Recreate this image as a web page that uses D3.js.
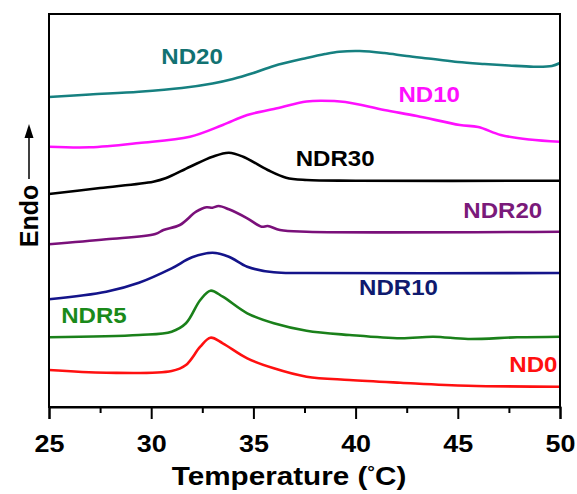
<!DOCTYPE html>
<html lang="en">
<head>
<meta charset="UTF-8"/>
<title>DSC curves</title>
<script src="https://cdn.jsdelivr.net/npm/d3@7"></script>
<style>
    html, body { margin: 0; background: #fff; }
    svg text { font-family: "Liberation Sans", Arial, sans-serif; font-weight: bold; }
</style>
</head>
<body>
<div id="chart"></div>
<script>
    // temperature (°C) vs heat flow (a.u., endo up, curves offset)
    const ND0 = [[25, 37], [27.8, 34.3], [31, 36], [31.7, 42], [32.4, 60.3], [32.9, 69.3], [33.5, 63.7],
        [34.7, 48.7], [36, 38.7], [37.6, 30.3], [39.7, 27], [42.2, 24.3], [45.5, 21.3], [50, 20.3]]
    const NDR5 = [[25, 69.7], [29.4, 72], [31, 75.3], [31.7, 83.7], [32.4, 107], [32.9, 116.3], [33.5, 110.3],
        [34.7, 93.7], [36, 83.7], [37.6, 76.3], [39.7, 72], [42.2, 68.7], [43.8, 70.3], [45.5, 68], [47.9, 69.7], [50, 70.3]]
    const NDR10 = [[25, 107.7], [27.8, 115.3], [29.4, 124.3], [31, 138.7], [32, 149.7], [33, 154.3], [33.8, 150.3],
        [34.7, 140.3], [36, 134.7], [37.6, 134], [50, 134]]
    const NDR20 = [[25, 162.7], [27.8, 167.7], [30.2, 173], [30.6, 177], [31.4, 182], [32.2, 195.3], [32.7, 199.7],
        [33.0, 199.3], [33.3, 201], [33.8, 197.7], [34.7, 188.7], [35.4, 180.3], [35.7, 181], [36.3, 177], [37.6, 175.3], [50, 175.3]]
    const NDR30 = [[25, 213], [27.5, 219], [30.1, 225.3], [30.7, 228.7], [31.9, 240.3], [33, 250.3], [33.8, 254.3],
        [34.5, 250.3], [35.7, 237], [36.6, 229.3], [37.6, 227], [40, 226.3], [50, 226.3]]
    const ND10 = [[25, 260.3], [27, 259.7], [29.4, 264], [31.9, 270.3], [33.5, 282], [34.7, 292], [36, 298],
        [37.6, 305.5], [38.3, 306.3], [39.5, 305], [41.4, 297], [43, 291], [45.1, 282], [46, 280], [47.1, 272], [48.5, 267.5], [50, 265.3]]
    const ND20 = [[25, 310], [27, 312.5], [29.4, 315.3], [31.5, 319], [33, 323.5], [34, 328], [35, 334], [36, 341],
        [37.6, 349], [38.5, 353], [39.2, 355.3], [40.2, 356], [41.4, 354], [42.5, 351], [43.8, 348], [45, 345],
        [46.3, 343], [47.5, 341.5], [48.7, 340.3], [49.6, 341], [50, 344]]

    const seriesNames = ['ND0', 'NDR5', 'NDR10', 'NDR20', 'NDR30', 'ND10', 'ND20']
    const seriesData = [ND0, NDR5, NDR10, NDR20, NDR30, ND10, ND20]
    const lineColors = ['#ff1010', '#1a801a', '#14148a', '#7a107a', '#000000', '#ff10ff', '#168080']
    const labelColors = ['#ff1010', '#1a8a1a', '#0f1a6e', '#7a1a7a', '#000000', '#ff10ff', '#127272']
    // label anchor in data units [temperature, heat flow]
    const labelPos = [[48.7, 35], [27.2, 84], [42.1, 112], [47.2, 189], [39.0, 241], [43.6, 305], [32.0, 343]]

    const majorTicks = [25, 30, 35, 40, 45, 50]
    const minorTicks = [27.5, 32.5, 37.5, 42.5, 47.5]

    const width = 577, height = 494
    const margin = {top: 14, right: 17, bottom: 87, left: 49}

    const x = d3.scaleLinear().domain([25, 50]).range([margin.left, width - margin.right])
    const y = d3.scaleLinear().domain([0, 393]).range([height - margin.bottom, margin.top])

    const svg = d3.select('#chart').append('svg')
        .attr('width', width)
        .attr('height', height)

    // curves
    const line = d3.line()
        .x(d => x(d[0]))
        .y(d => y(d[1]))
        .curve(d3.curveCatmullRom.alpha(0.5))

    svg.append('g')
        .selectAll('path')
        .data(seriesData)
        .join('path')
        .attr('d', line)
        .attr('fill', 'none')
        .attr('stroke', (d, i) => lineColors[i])
        .attr('stroke-width', 2.6)
        .attr('stroke-linejoin', 'round')

    // curve labels, slightly stretched like the original
    svg.append('g')
        .selectAll('text')
        .data(seriesNames)
        .join('text')
        .attr('transform', (d, i) => `translate(${x(labelPos[i][0])},${y(labelPos[i][1])}) scale(1.12,1)`)
        .attr('text-anchor', 'middle')
        .attr('font-size', 21.5)
        .attr('fill', (d, i) => labelColors[i])
        .text(d => d)

    // frame
    svg.append('rect')
        .attr('x', x(25))
        .attr('y', y(393))
        .attr('width', x(50) - x(25))
        .attr('height', y(0) - y(393))
        .attr('fill', 'none')
        .attr('stroke', '#000')
        .attr('stroke-width', 2)

    // bottom axis
    const xAxis = svg.append('g')
        .attr('transform', `translate(0,${y(0)})`)
        .call(d3.axisBottom(x).tickValues(majorTicks).tickSize(12).tickPadding(17).tickFormat(d3.format('d')))
    xAxis.select('.domain').attr('stroke-width', 2)
    xAxis.selectAll('.tick line').attr('stroke-width', 2)
    xAxis.selectAll('.tick text')
        .attr('font-size', 23)
        .attr('font-family', '"Liberation Sans", Arial, sans-serif')
        .attr('font-weight', 'bold')
        .attr('fill', '#000')
        .attr('transform', 'scale(1.17,1)')

    svg.append('g')
        .attr('transform', `translate(0,${y(0)})`)
        .call(d3.axisBottom(x).tickValues(minorTicks).tickSize(6).tickFormat(''))
        .call(g => g.select('.domain').remove())
        .selectAll('.tick line').attr('stroke-width', 2)

    // x title
    const xTitle = svg.append('text')
        .attr('transform', 'translate(289,485) scale(1.12,1)')
        .attr('text-anchor', 'middle')
        .attr('font-size', 26.5)
        .attr('fill', '#000')
    xTitle.append('tspan').text('Temperature (')
    xTitle.append('tspan').attr('font-size', 17).attr('dy', -7).text('°')
    xTitle.append('tspan').attr('dy', 7).text('C)')

    // y title with arrow
    svg.append('text')
        .attr('transform', 'translate(38,216) rotate(-90)')
        .attr('text-anchor', 'middle')
        .attr('font-size', 25)
        .attr('fill', '#000')
        .text('Endo')

    svg.append('line')
        .attr('x1', 29).attr('x2', 29)
        .attr('y1', 179).attr('y2', 136)
        .attr('stroke', '#000')
        .attr('stroke-width', 1.5)
    svg.append('path')
        .attr('d', d3.line()([[29, 124], [24.5, 138], [33.5, 138]]) + 'Z')
        .attr('fill', '#000')
</script>
</body>
</html>
